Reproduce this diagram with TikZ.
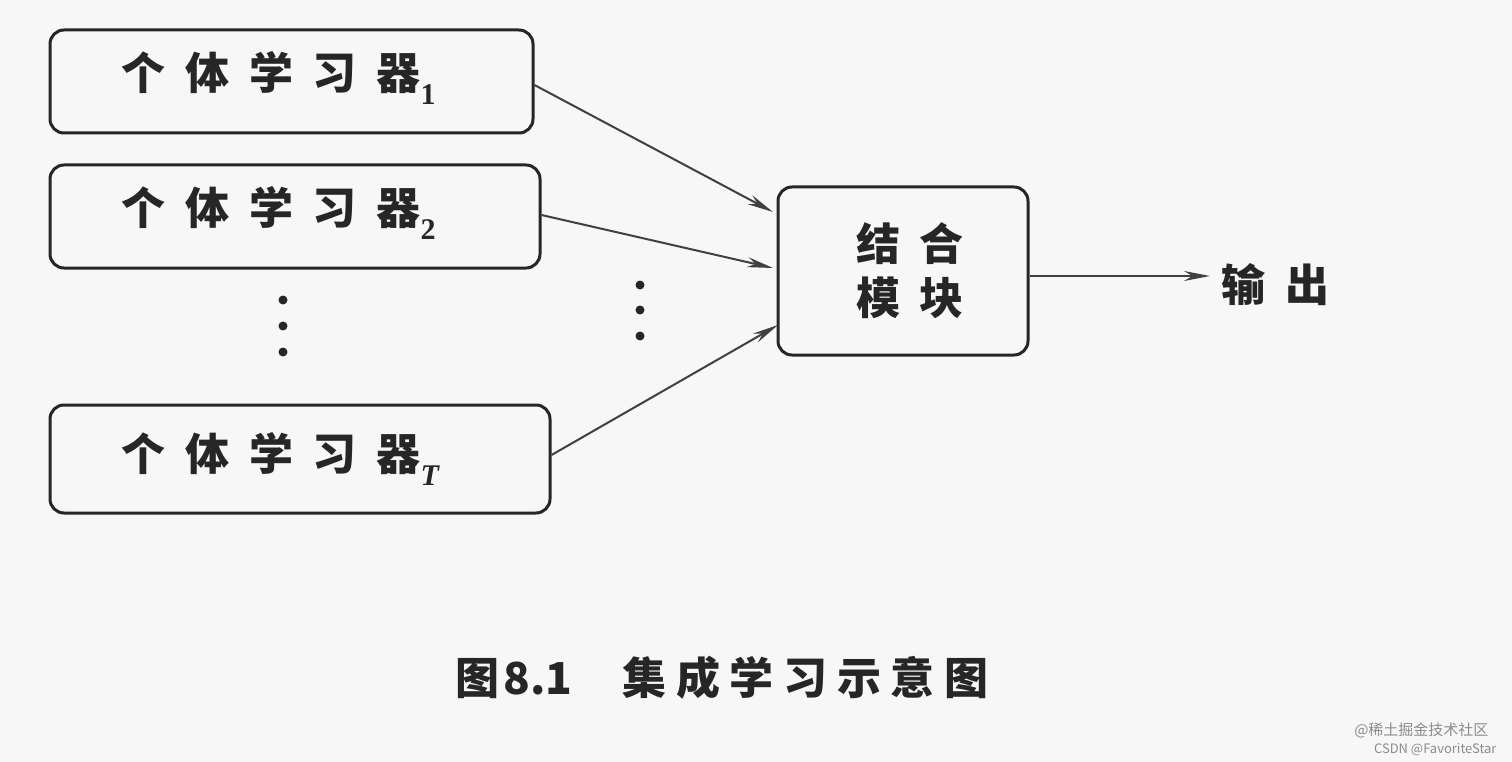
\documentclass[tikz,border=0pt]{standalone}
\usepackage{fontspec}
\newfontfamily\cjk{Noto Sans CJK SC}
\setmainfont{Liberation Serif}
\usetikzlibrary{arrows.meta}
\newcommand{\subx}[1]{\raisebox{-0.35em}{\fontsize{30}{32}\selectfont\rmfamily #1}}
\begin{document}
\begin{tikzpicture}[x=1pt,y=-1pt,
  box/.style={draw=black!85,line width=3pt,rounded corners=14pt,inner sep=0pt},
  lbl/.style={font=\cjk\bfseries\fontsize{44}{54}\selectfont\addfontfeature{LetterSpace=45},text=black!85},
  arr/.style={-{Stealth[length=26pt,width=10pt]},line width=2pt,draw=black!75},
  dotc/.style={circle,fill=black!85,inner sep=0pt,minimum size=9pt}]
\fill[gray!6] (0,0) rectangle (1512,762);
\useasboundingbox (0,0) rectangle (1512,762);
\node[box,minimum width=483pt,minimum height=103pt] (b1) at (291.5,81.5) {};
\node[lbl,anchor=west] (t1) at (118,78) {个体学习器\subx{1}};
\node[box,minimum width=490pt,minimum height=103pt] (b2) at (295,216.5) {};
\node[lbl,anchor=west] (t2) at (118,213) {个体学习器\subx{2}};
\node[box,minimum width=500pt,minimum height=108pt] (bT) at (300,459) {};
\node[lbl,anchor=west] (tT) at (118,459) {个体学习器\subx{\itshape T}};
\node[box,minimum width=250pt,minimum height=168pt] (c) at (903,271) {};
\node[lbl,align=center] (ct) at (910,271) {结合\\模块};
\node[lbl,anchor=west] (out) at (1218,285) {输出};
\coordinate (ce1) at (773,212);
\coordinate (ce2) at (773,268);
\coordinate (ce3) at (778,325);
\coordinate (oe) at (1210,276);
\draw[arr] (b1.east |- 0,85) -- (ce1);
\draw[arr] (b2.east |- 0,215) -- (ce2);
\draw[arr] (bT.east |- 0,455) -- (ce3);
\draw[arr] (c.east |- oe) -- (oe);
\foreach \y [count=\i] in {300,326,352} \node[dotc] (ld\i) at (283,\y) {};
\foreach \y [count=\i] in {285,310,336} \node[dotc] (md\i) at (640,\y) {};
\node[font=\cjk\bfseries\fontsize{44}{50}\selectfont,text=black!85] (cap) at (722,678) {{\addfontfeature{LetterSpace=30}图}\hspace{4pt}8.1\hspace{50pt}{\addfontfeature{LetterSpace=22}集成学习示意图}};
\node[font=\cjk\fontsize{15}{18}\selectfont,text=black!45,anchor=east] (w1) at (1492,730) {@稀土掘金技术社区};
\node[font=\cjk\fontsize{13}{16}\selectfont,text=black!45,anchor=east] (w2) at (1500,750) {CSDN @FavoriteStar};
\end{tikzpicture}
\end{document}
